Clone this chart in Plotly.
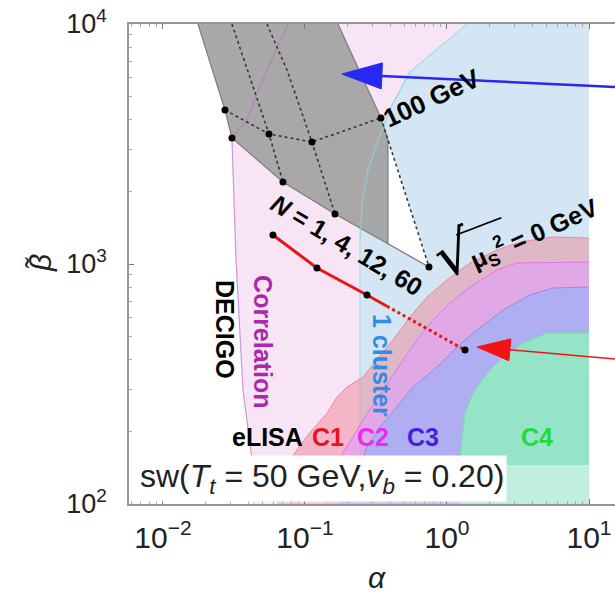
import numpy as np
import plotly.graph_objects as go

# ---------------- frame ----------------
W, H = 615, 598
MARGIN = dict(l=129, r=0, t=24, b=94)
X_RANGE = [-2.239, 1.183]   # log10(alpha)
Y_RANGE = [2.0, 4.0]        # log10(beta~)
FONT = "Liberation Sans, Arial, sans-serif"

# ---------------- data ----------------
alpha_edge = 10.0           # right edge of the detector / correlation regions
beta_floor, beta_ceil = 100.0, 10000.0

# correlation (DECIGO) region boundary, top -> bottom
corr_alpha = [0.0759, 0.0615, 0.0459, 0.0390, 0.0306, 0.0327, 0.0366, 0.0423, 0.0437]
corr_beta = [10000, 7642, 5158, 3981, 3350, 1039, 298.5, 155.5, 100]

# "1 cluster" region boundary, top -> bottom
cluster_alpha = [1.383, 0.549, 0.410, 0.337, 0.278, 0.252, 0.244, 0.244]
cluster_beta = [10000, 6310, 4597, 3447, 2465, 1762, 1259, 100]

# eLISA configurations C1..C4, boundary from right edge down to the floor
c1_alpha = [10, 5.58, 3.27, 2.25, 1.45, 1.0, 0.723, 0.549, 0.417, 0.321, 0.256,
            0.198, 0.168, 0.143, 0.108, 0.0878, 0.0784, 0.070, 0.0645]
c1_beta = [1283, 1296, 1235, 1144, 1010, 858, 729, 601, 483, 398, 338,
           307, 279, 239, 198, 168, 153, 126, 100]
c2_alpha = [10, 3.11, 2.25, 1.45, 1.05, 0.797, 0.615, 0.490, 0.397, 0.321,
            0.256, 0.218, 0.185, 0.168, 0.150, 0.1405]
c2_beta = [1019, 1010, 944, 802, 688, 584.5, 482.5, 398, 328.6, 271.3,
           223.9, 190.2, 163.1, 142.6, 120, 100]
c3_alpha = [10, 5.58, 3.84, 2.48, 1.626, 1.176, 0.850, 0.576, 0.445, 0.337,
            0.273, 0.244, 0.207, 0.176]
c3_beta = [802, 794, 743, 643, 531, 451, 372, 307, 254, 209.4, 172.8, 142.6, 120, 100]
c4_alpha = [10, 5.06, 3.43, 2.48, 1.913, 1.525, 1.339, 1.275, 1.235, 1.235]
c4_beta = [516, 516, 469, 410, 351, 290, 239, 190, 152.5, 100]

# singlet-extension scan: constant-N lines (top, mu=100 GeV, mu=0 GeV)
n1_alpha, n1_beta = [0.01764, 0.02733, 0.03061], [10000, 4382, 3350]
n4_alpha, n4_beta = [0.03061, 0.04592, 0.05579, 0.0700], [10000, 4964, 3481, 2196]
n12_alpha, n12_beta = [0.05401, 0.07468, 0.1120, 0.1627], [10000, 6432, 3224, 1616]
n60_alpha, n60_beta = [0.1708, 0.3428, 0.7468], [10000, 4058, 972]
alpha_cut = 0.384           # upper alpha of the shaded scan region

# benchmark track
bench_alpha = [0.0595, 0.1215, 0.2733, 1.339]
bench_beta = [1321, 962.4, 742.9, 438.2]
bench_solid_end = 0.378

# arrows: (tip, tail)
blue_arrow = dict(tip=(0.182, 6190), tail=(15.25, 5465))
red_arrow = dict(tip=(1.626, 451), tail=(15.25, 402))

# ---------------- helpers ----------------
def interp_log(xa, ya, xb, yb, x):
    la, lb = np.log10(xa), np.log10(xb)
    t = (np.log10(x) - la) / (lb - la)
    return 10 ** (np.log10(ya) + t * (np.log10(yb) - np.log10(ya)))

kx = (W - MARGIN["l"] - MARGIN["r"]) / (X_RANGE[1] - X_RANGE[0])
ky = (H - MARGIN["t"] - MARGIN["b"]) / (Y_RANGE[1] - Y_RANGE[0])

def arrow_head(tip, tail, length, half):
    T = np.array([np.log10(tip[0]) * kx, np.log10(tip[1]) * ky])
    S = np.array([np.log10(tail[0]) * kx, np.log10(tail[1]) * ky])
    d = (T - S) / np.linalg.norm(T - S)
    n = np.array([-d[1], d[0]])
    B = T - length * d
    pts = [T, B + half * n, B - half * n, T]
    xs = [10 ** (p[0] / kx) for p in pts]
    ys = [10 ** (p[1] / ky) for p in pts]
    base = (10 ** (B[0] / kx), 10 ** (B[1] / ky))
    return xs, ys, base

fig = go.Figure()

def poly(xs, ys, fill, line=None, width=1):
    fig.add_trace(go.Scatter(x=xs, y=ys, mode="lines", fill="toself", fillcolor=fill,
                             line=dict(color=line or "rgba(0,0,0,0)", width=width),
                             hoverinfo="skip", showlegend=False))

def curve(xs, ys, color, width, dash="solid"):
    fig.add_trace(go.Scatter(x=xs, y=ys, mode="lines",
                             line=dict(color=color, width=width, dash=dash),
                             hoverinfo="skip", showlegend=False))

# correlation region
poly(corr_alpha + [alpha_edge, alpha_edge], corr_beta + [beta_floor, beta_ceil],
     "rgb(247,228,244)")
curve(corr_alpha, corr_beta, "rgb(205,150,215)", 1.2)

# 1 cluster region
poly(cluster_alpha + [alpha_edge, alpha_edge], cluster_beta + [beta_floor, beta_ceil],
     "rgb(212,230,243)")
curve(cluster_alpha, cluster_beta, "rgb(165,222,232)", 1.2)

# eLISA configurations
poly(c1_alpha + [alpha_edge], c1_beta + [beta_floor], "rgba(240,120,135,0.42)",
     "rgba(235,120,135,0.8)", 1)
poly(c2_alpha + [alpha_edge], c2_beta + [beta_floor], "rgba(225,160,250,0.62)",
     "rgba(225,100,240,0.8)", 1)
poly(c3_alpha + [alpha_edge], c3_beta + [beta_floor], "rgba(165,175,245,0.82)",
     "rgba(130,140,240,0.9)", 1)
poly(c4_alpha + [alpha_edge], c4_beta + [beta_floor], "rgba(148,234,194,0.9)",
     "rgba(110,225,160,0.9)", 1)

# lighter strip along the bottom
poly([10 ** X_RANGE[0], alpha_edge, alpha_edge, 10 ** X_RANGE[0]],
     [145.4, 145.4, beta_floor, beta_floor], "rgba(255,255,255,0.4)")

# shaded scan region
mu100_alpha = [n1_alpha[1], n4_alpha[2], n12_alpha[2], n60_alpha[1]]
mu100_beta = [n1_beta[1], n4_beta[2], n12_beta[2], n60_beta[1]]
mu0_alpha = [n1_alpha[2], n4_alpha[3], n12_alpha[3], n60_alpha[2]]
mu0_beta = [n1_beta[2], n4_beta[3], n12_beta[3], n60_beta[2]]

beta_mu0_cut = interp_log(mu0_alpha[2], mu0_beta[2], mu0_alpha[3], mu0_beta[3], alpha_cut)
beta_n60_cut = interp_log(n60_alpha[1], n60_beta[1], n60_alpha[2], n60_beta[2], alpha_cut)

poly([alpha_cut, n60_alpha[2], alpha_cut], [beta_n60_cut, n60_beta[2], beta_mu0_cut], "white")

gray_x = n1_alpha + mu0_alpha[1:3] + [alpha_cut, alpha_cut, n60_alpha[1], n60_alpha[0]]
gray_y = n1_beta + mu0_beta[1:3] + [beta_mu0_cut, beta_n60_cut, n60_beta[1], n60_beta[0]]
poly(gray_x, gray_y, "rgba(160,160,160,0.9)", "rgb(125,125,125)", 1.2)
curve([alpha_cut, mu0_alpha[3]], [beta_mu0_cut, mu0_beta[3]], "rgb(115,115,115)", 1.2)

# region edges showing through the shaded scan
curve(corr_alpha[:5], corr_beta[:5], "rgba(190,120,200,0.7)", 1.2)
curve(cluster_alpha[1:7], cluster_beta[1:7], "rgba(150,215,225,0.7)", 1.2)

for xs, ys in [(mu100_alpha, mu100_beta), (n4_alpha, n4_beta), (n12_alpha, n12_beta),
               (n60_alpha[1:], n60_beta[1:])]:
    curve(xs, ys, "rgb(55,55,55)", 1.6, "dot")

fig.add_trace(go.Scatter(x=mu100_alpha + mu0_alpha, y=mu100_beta + mu0_beta, mode="markers",
                         marker=dict(color="black", size=7), hoverinfo="skip", showlegend=False))

# benchmark track
beta_solid_end = interp_log(bench_alpha[2], bench_beta[2], bench_alpha[3], bench_beta[3],
                            bench_solid_end)
curve(bench_alpha[:3] + [bench_solid_end], bench_beta[:3] + [beta_solid_end],
      "rgb(235,20,20)", 3)
curve([bench_solid_end, bench_alpha[3]], [beta_solid_end, bench_beta[3]],
      "rgb(235,20,20)", 3, "3px,3px")
fig.add_trace(go.Scatter(x=bench_alpha, y=bench_beta, mode="markers",
                         marker=dict(color="black", size=7), hoverinfo="skip", showlegend=False))

# arrows
for arr, col, lw, hl, hw in [(blue_arrow, "rgb(40,40,245)", 2.5, 40, 13),
                             (red_arrow, "rgb(240,20,20)", 1.5, 33, 11)]:
    hx, hy, base = arrow_head(arr["tip"], arr["tail"], hl, hw)
    curve([arr["tail"][0], base[0]], [arr["tail"][1], base[1]], col, lw)
    poly(hx, hy, col, col, 1)

# ---------------- text ----------------
def label(a, b, text, size=25, color="black", angle=0, bold=True, **kw):
    fig.add_annotation(x=np.log10(a), y=np.log10(b), xref="x", yref="y", showarrow=False,
                       text=f"<b>{text}</b>" if bold else text, textangle=angle,
                       font=dict(family=FONT, size=size, color=color), **kw)

label(0.784, 4917, "100 GeV", size=26, angle=-25)
label(0.1976, 1200, "<i>N</i> = 1, 4, 12, 60", angle=31)
# square root over mu_S^2
label(1.12, 1101, "√", size=58, angle=-18, bold=False, font_family="DejaVu Sans")
label(1.764, 1321, "‾‾‾‾", size=24, angle=-21, bold=False, font_family="DejaVu Sans")
label(4.10, 1334, "μ<sub>S</sub><sup>2</sup> = 0 GeV", angle=-24)
label(0.02733, 531, "DECIGO", angle=90)
label(0.0506, 473, "Correlation", color="rgb(170,40,170)", angle=90)
label(0.3485, 376, "1 cluster", color="rgb(50,140,230)", angle=90)
label(0.0549, 190, "eLISA")
label(0.1452, 190, "C1", color="rgb(230,20,30)")
label(0.3012, 190, "C2", color="rgb(240,40,240)")
label(0.6776, 190, "C3", color="rgb(70,30,220)")
label(4.303, 190, "C4", color="rgb(30,220,60)")
label(0.1317, 127.2, "sw(<i>T</i><sub><i>t</i></sub> = 50 GeV,<i>v</i><sub><i>b</i></sub> = 0.20)",
      size=32, color="#222", bold=False, bgcolor="white", borderpad=2)

# axis titles
fig.add_annotation(x=0.510, y=-0.154, xref="paper", yref="paper", showarrow=False,
                   xanchor="center", yanchor="middle",
                   text="<i>α</i>", font=dict(family=FONT, size=30, color="#222"))
fig.add_annotation(x=-0.183, y=0.502, xref="paper", yref="paper", showarrow=False,
                   xanchor="center", yanchor="middle",
                   text="<i>β̃</i>", textangle=-90, font=dict(family=FONT, size=30, color="#222"))

# ---------------- axes ----------------
x_ticks = [0.01, 0.1, 1, 10]
x_text = ["10<sup>−2</sup>", "10<sup>−1</sup>", "10<sup>0</sup>", "10<sup>1</sup>"]
y_ticks = [100, 1000, 10000]
y_text = ["10<sup>2</sup>", "10<sup>3</sup>", "10<sup>4</sup>"]
x_minor = [m * 10.0 ** e for e in range(-3, 2) for m in range(2, 10)]
y_minor = [m * 10.0 ** e for e in range(2, 4) for m in range(2, 10)]

axis_common = dict(type="log", showgrid=False, zeroline=False, showline=True,
                   linecolor="rgb(150,150,150)", linewidth=1.5, ticks="inside",
                   ticklen=5, tickcolor="rgb(120,120,120)")

fig.update_xaxes(range=X_RANGE, tickvals=x_ticks, ticktext=x_text, mirror="allticks",
                 ticklabelstandoff=6, tickfont=dict(family=FONT, size=30, color="#222"),
                 minor=dict(ticks="inside", ticklen=3, tickcolor="rgb(170,170,170)",
                            tickvals=x_minor), **axis_common)
fig.update_yaxes(range=Y_RANGE, tickvals=y_ticks, ticktext=y_text, ticklabelstandoff=15,
                 tickfont=dict(family=FONT, size=27, color="#222"),
                 minor=dict(ticks="inside", ticklen=3, tickcolor="rgb(170,170,170)",
                            tickvals=y_minor), **axis_common)

fig.update_layout(width=W, height=H, margin=dict(**MARGIN, pad=0, autoexpand=False),
                  plot_bgcolor="white", paper_bgcolor="white", showlegend=False)

fig.write_html("out.html")
